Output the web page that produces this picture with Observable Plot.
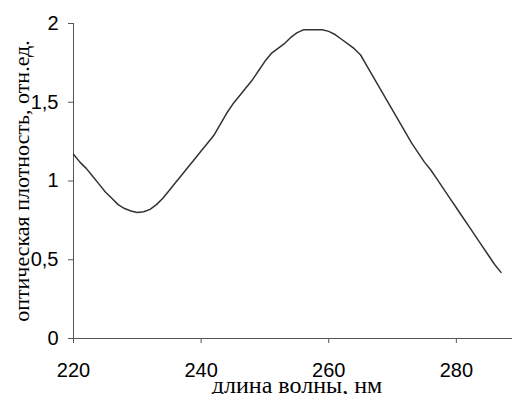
<!DOCTYPE html>
<html>
<head>
<meta charset="utf-8">
<script src="https://cdn.jsdelivr.net/npm/d3@7"></script>
<script src="https://cdn.jsdelivr.net/npm/@observablehq/plot@0.6"></script>
<style>
  html, body { margin: 0; padding: 0; background: white; overflow: hidden; }
</style>
</head>
<body>
<div id="chart"></div>
<script>
const wavelengths = [220,221,222,223,224,225,226,227,228,229,230,231,232,233,234,235,236,237,238,239,240,241,242,243,244,245,246,247,248,249,250,251,252,253,254,255,256,257,258,259,260,261,262,263,264,265,266,267,268,269,270,271,272,273,274,275,276,277,278,279,280,281,282,283,284,285,286,287];
const absorbance = [1.17,1.12,1.08,1.03,0.98,0.93,0.89,0.85,0.825,0.81,0.80,0.805,0.82,0.85,0.89,0.94,0.99,1.04,1.09,1.14,1.19,1.24,1.29,1.36,1.43,1.49,1.54,1.59,1.64,1.70,1.76,1.81,1.84,1.87,1.91,1.94,1.96,1.96,1.96,1.96,1.95,1.93,1.90,1.87,1.84,1.80,1.73,1.66,1.59,1.52,1.45,1.38,1.31,1.24,1.18,1.12,1.07,1.01,0.95,0.89,0.83,0.77,0.71,0.65,0.59,0.53,0.47,0.42];
const xTicks = [220, 240, 260, 280];
const yTicks = [0, 0.5, 1, 1.5, 2];
const xTitle = "длина волны, нм";
const yTitle = "оптическая плотность, отн.ед.";

const data = wavelengths.map((w, i) => ({wl: w, val: absorbance[i]}));

const chart = Plot.plot({
  width: 512,
  height: 394,
  marginLeft: 73,
  marginRight: 0,
  marginTop: 23,
  marginBottom: 56,
  style: {fontFamily: "'Liberation Sans', Arial, sans-serif", fontSize: "20px", background: "white", overflow: "visible"},
  x: {domain: [220, 288.8]},
  y: {domain: [0, 2]},
  marks: [
    Plot.axisX({ticks: xTicks, tickSize: 5, tickPadding: 19, label: null, stroke: "#555", fill: "#000"}),
    Plot.axisY({ticks: yTicks, tickFormat: d => String(d).replace(".", ","), tickSize: 5, tickPadding: 10, label: null, stroke: "#555", fill: "#000"}),
    Plot.ruleY([0], {stroke: "#555"}),
    Plot.ruleX([220], {stroke: "#555"}),
    Plot.line(data, {x: "wl", y: "val", stroke: "#333", strokeWidth: 1.5}),
    Plot.text([xTitle], {text: d => d, frameAnchor: "bottom", textAnchor: "middle", dx: 4, dy: 54, lineAnchor: "bottom", fontFamily: "'Liberation Serif', 'Times New Roman', serif", fontSize: 24, fill: "#000"}),
    Plot.text([yTitle], {text: d => d, frameAnchor: "left", textAnchor: "middle", dx: -52, rotate: -90, lineAnchor: "middle", fontFamily: "'Liberation Serif', 'Times New Roman', serif", fontSize: 22, fill: "#000"})
  ]
});
document.getElementById("chart").appendChild(chart);
</script>
</body>
</html>
